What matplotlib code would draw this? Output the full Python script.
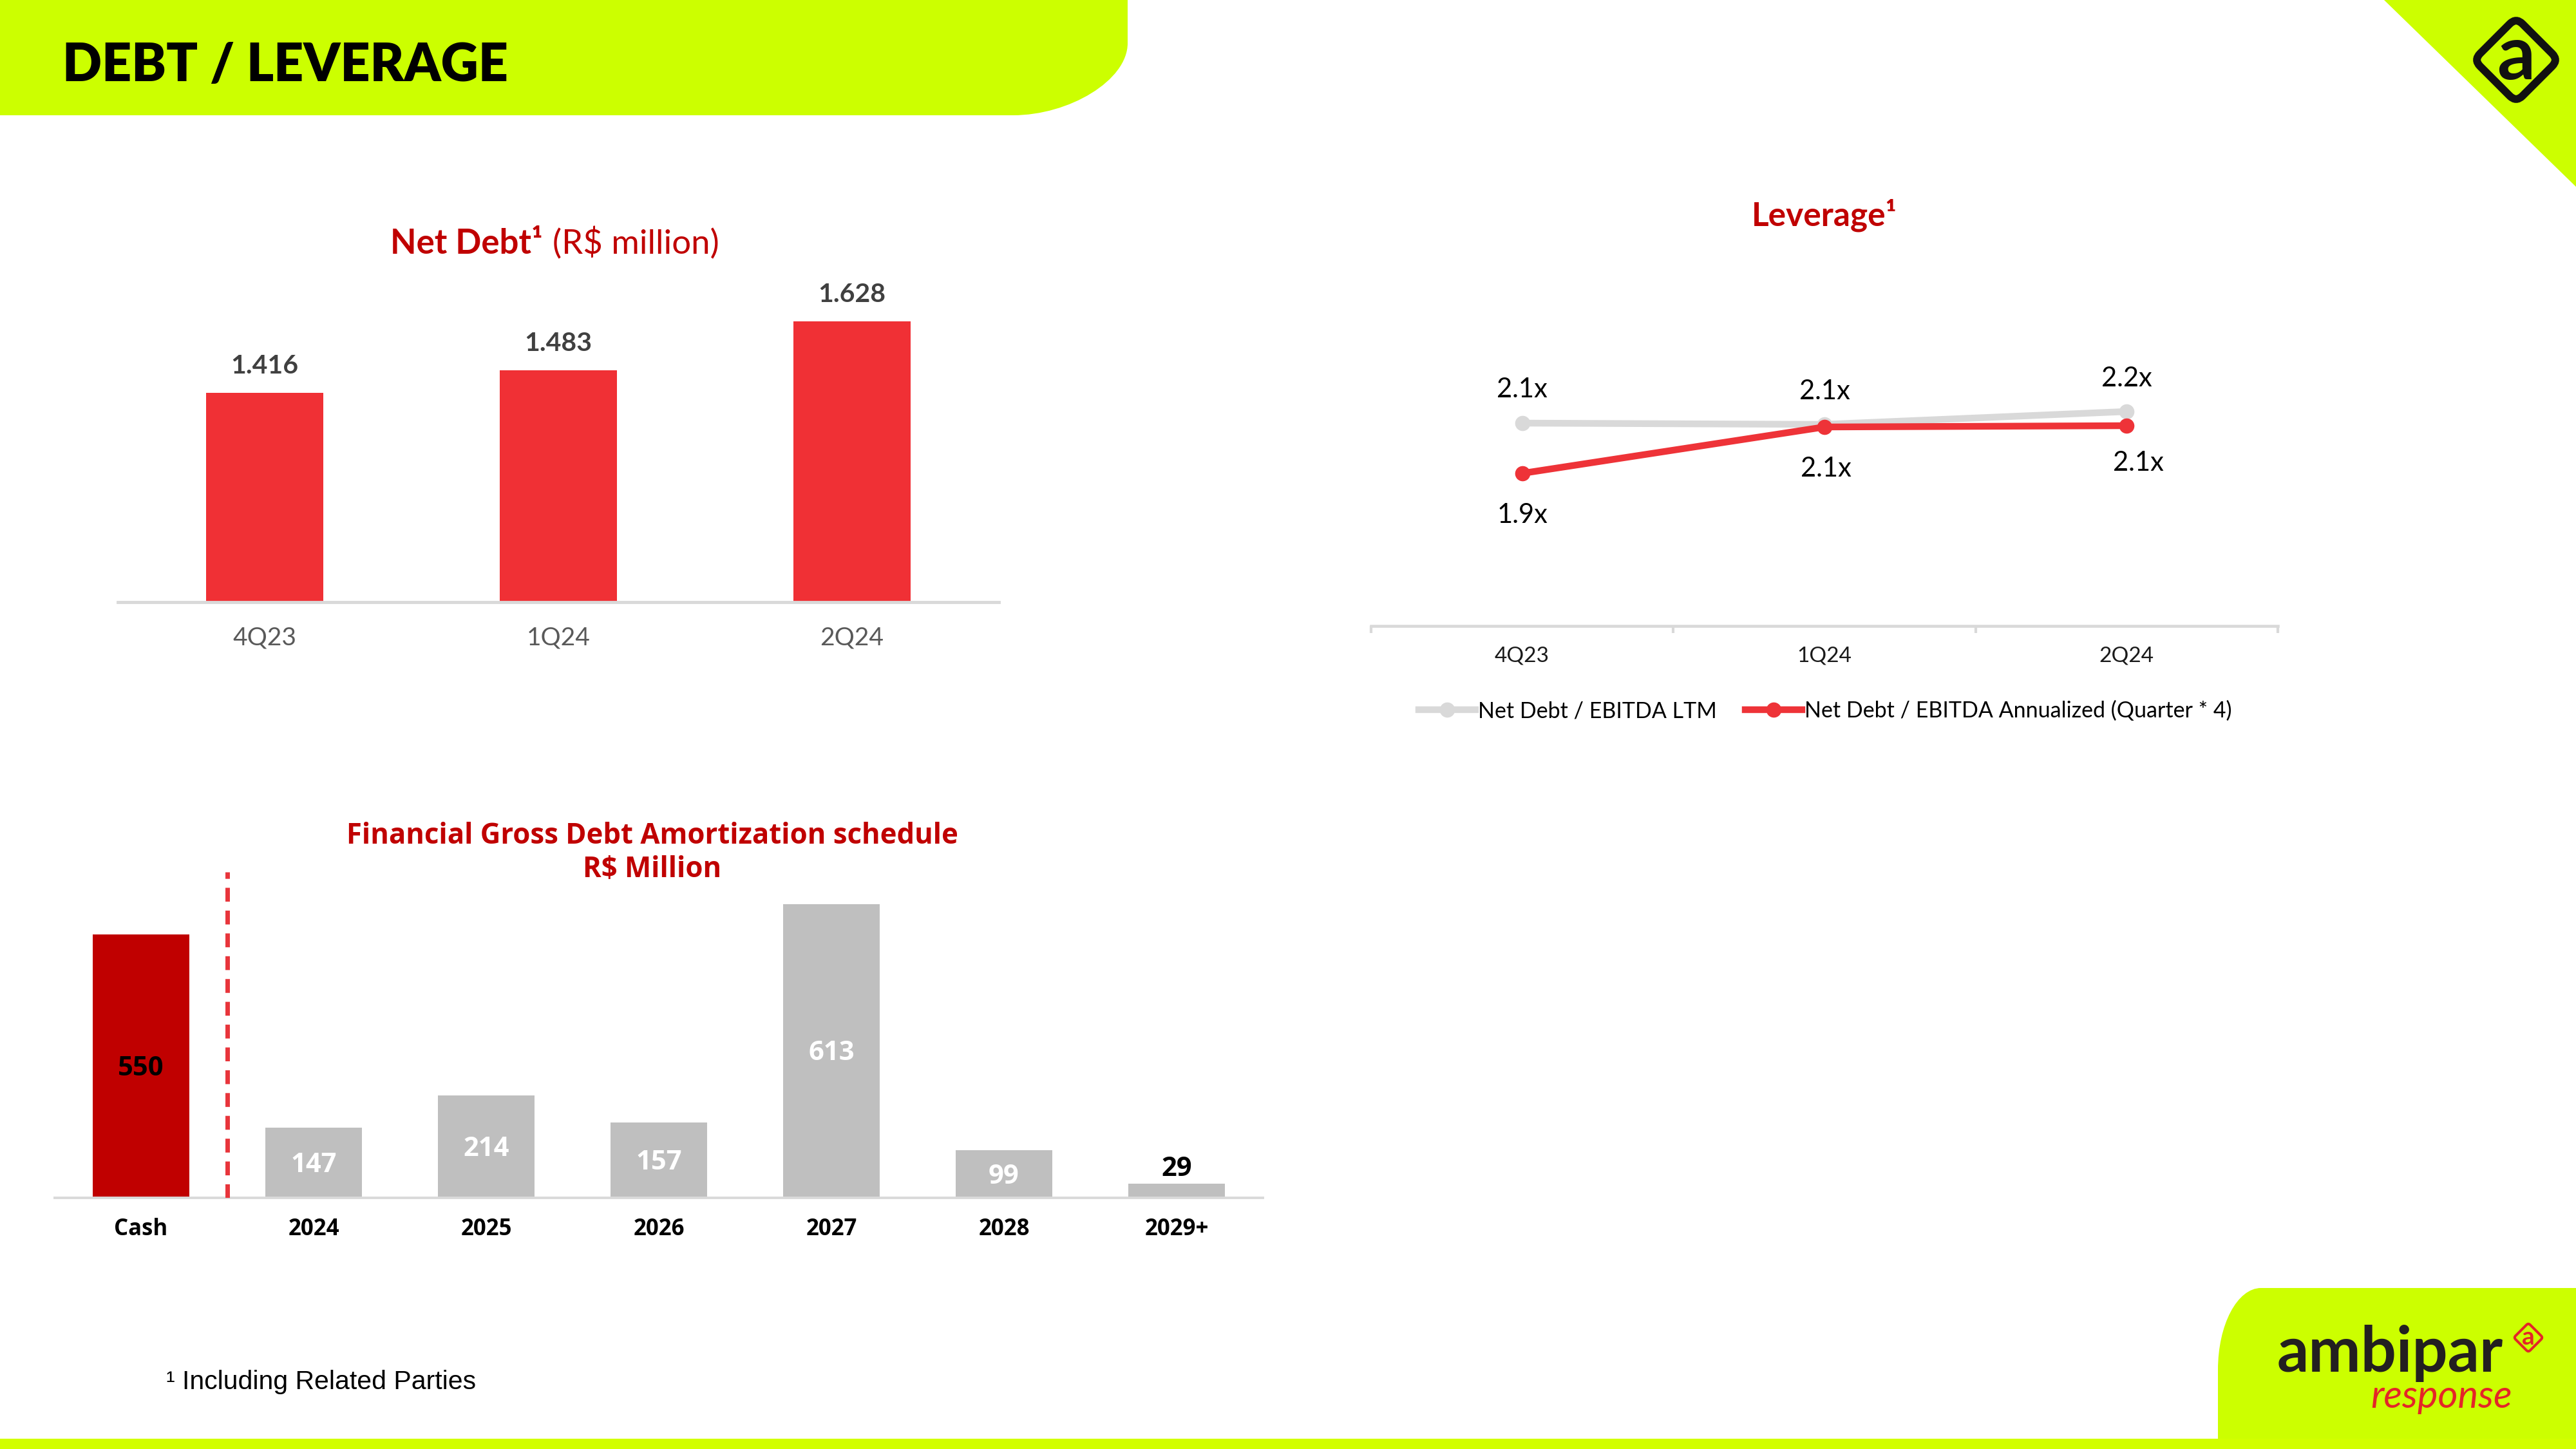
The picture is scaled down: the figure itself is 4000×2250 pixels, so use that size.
import matplotlib
matplotlib.use('Agg')
import matplotlib.pyplot as plt
import matplotlib.transforms as mtransforms
from matplotlib import font_manager
from matplotlib.path import Path
from matplotlib.patches import PathPatch, FancyBboxPatch, Polygon, Rectangle
import numpy as np

# ---------------- data ----------------
nd_quarters = ['4Q23', '1Q24', '2Q24']
nd_values = [1416, 1483, 1628]            # R$ million

lev_quarters = ['4Q23', '1Q24', '2Q24']
lev_ltm = [2.115, 2.11, 2.16]
lev_annualized = [1.92, 2.10, 2.105]
lev_names = ['Net Debt / EBITDA LTM', 'Net Debt / EBITDA Annualized (Quarter * 4)']

am_categories = ['Cash', '2024', '2025', '2026', '2027', '2028', '2029+']
am_values = [550, 147, 214, 157, 613, 99, 29]

# ---------------- fonts ----------------
_avail = {f.name for f in font_manager.fontManager.ttflist}


def pick(*names):
    for n in names:
        if n in _avail:
            return n
    return 'DejaVu Sans'


CAL = pick('Lato', 'Open Sans', 'Noto Sans')
MONT = pick('Open Sans', 'Lato')
NARROW = pick('Liberation Sans Narrow', 'Lato')
HAS_NARROW = NARROW == 'Liberation Sans Narrow'
ARIAL = pick('Liberation Sans', 'DejaVu Sans')

plt.rcParams['font.family'] = [CAL, 'DejaVu Sans']

W, H, DPI = 4000, 2250, 100
fig = plt.figure(figsize=(W / DPI, H / DPI), dpi=DPI)
fig.patch.set_facecolor('white')

# pixel (from top-left) -> display
PX = mtransforms.Affine2D().scale(1 / W, -1 / H).translate(0, 1) + fig.transFigure
PT = 72 / DPI  # points per pixel

LIME = '#CCFF00'
DARKRED = '#C00000'


def ftext(x, y, s, **kw):
    return fig.text(x / W, 1 - y / H, s, **kw)


def add_axes_px(left, top, right, bottom):
    return fig.add_axes([left / W, 1 - bottom / H, (right - left) / W, (bottom - top) / H])


# ---------------- decorations ----------------
# header band with rounded bottom-right corner
hv = [(0, 0), (1751, 0), (1751, 67), (1751, 125), (1660, 179), (1573, 179), (0, 179), (0, 0)]
hc = [Path.MOVETO, Path.LINETO, Path.LINETO, Path.CURVE4, Path.CURVE4, Path.CURVE4,
      Path.LINETO, Path.CLOSEPOLY]
fig.add_artist(PathPatch(Path(hv, hc), transform=PX, facecolor=LIME, edgecolor='none', zorder=0))

title_size = 64 if HAS_NARROW else 58
ftext(97, 126, 'DEBT / LEVERAGE', family=[NARROW, 'DejaVu Sans'], fontsize=title_size,
      fontweight='heavy', color='black', ha='left', va='baseline')

# top-right triangle + logo
fig.add_artist(Polygon([(3702, 0), (4000, 0), (4000, 290)], closed=True, transform=PX,
                       facecolor=LIME, edgecolor='none', zorder=0))


def diamond(cx, cy, half_diag, r, lw_px, color):
    s = (half_diag + r * (np.sqrt(2) - 1)) * np.sqrt(2)
    tr = mtransforms.Affine2D().rotate_deg_around(cx, cy, 45) + PX
    p = FancyBboxPatch((cx - s / 2, cy - s / 2), s, s,
                       boxstyle=f'round,pad=0,rounding_size={r}',
                       transform=tr, facecolor='none', edgecolor=color,
                       linewidth=lw_px * PT, zorder=5)
    fig.add_artist(p)


diamond(3907, 93, 60, 14, 12, '#111111')
ftext(3907, 123, 'a', family=[NARROW, 'DejaVu Sans'], fontsize=92 if HAS_NARROW else 84,
      fontweight='bold', color='#111111', ha='center', va='baseline')

# bottom-right block
bv = [(3444, 2250), (3444, 2127), (3444, 2057), (3474, 2000), (3511, 2000),
      (4000, 2000), (4000, 2250), (3444, 2250)]
bc = [Path.MOVETO, Path.LINETO, Path.CURVE4, Path.CURVE4, Path.CURVE4,
      Path.LINETO, Path.LINETO, Path.CLOSEPOLY]
fig.add_artist(PathPatch(Path(bv, bc), transform=PX, facecolor=LIME, edgecolor='none', zorder=0))
# bottom strip
fig.add_artist(Rectangle((0, 2234), 4000, 16, transform=PX, facecolor='#D2FF00',
                         edgecolor='none', zorder=0))

ftext(3536, 2130, 'ambipar', family=[NARROW, 'DejaVu Sans'], fontsize=76 if HAS_NARROW else 70,
      fontweight='bold', color='#231F20', ha='left', va='baseline')
diamond(3926, 2077, 21, 4, 4, '#E42528')
ftext(3926, 2088, 'a', family=[NARROW, 'DejaVu Sans'], fontsize=28, fontweight='bold',
      color='#E42528', ha='center', va='baseline')
ftext(3681, 2186, 'response', family=[CAL, 'DejaVu Sans'], fontsize=43, style='italic',
      color='#E42528', ha='left', va='baseline')

# footnote
ftext(258, 2157, '¹ Including Related Parties', family=[ARIAL, 'DejaVu Sans'], fontsize=29.5,
      color='black', ha='left', va='baseline')

# ---------------- Net Debt bar chart ----------------
ax1 = add_axes_px(183, 400, 1551, 935)
x1 = np.arange(len(nd_quarters))
ax1.bar(x1, nd_values, width=0.40, color='#F03035', zorder=2)
ax1.set_xlim(-0.5, len(nd_quarters) - 0.5)
nd_ymin = 795
ax1.set_ylim(nd_ymin, nd_ymin + 535 / 0.5236)
for s in ['left', 'right', 'top']:
    ax1.spines[s].set_visible(False)
ax1.spines['bottom'].set_color('#D9D9D9')
ax1.spines['bottom'].set_linewidth(3.5)
ax1.spines['bottom'].set_zorder(3)
ax1.set_yticks([])
ax1.set_xticks(x1, nd_quarters)
ax1.tick_params(axis='x', length=0, pad=27, labelsize=28, labelcolor='#595959')
ax1.patch.set_alpha(0)
for xi, v in zip(x1, nd_values):
    ax1.annotate(f'{v:,}'.replace(',', '.'), (xi, v), xytext=(0, 30 * PT), textcoords='offset points',
                 ha='center', va='baseline', fontsize=29.5, fontweight='bold', color='#404040')

ftext(843, 394, 'Net Debt¹', fontsize=38, fontweight='bold', color=DARKRED, ha='right', va='baseline')
ftext(858, 394, '(R$ million)', fontsize=38, color=DARKRED, ha='left', va='baseline')

# ---------------- Leverage line chart ----------------
ax2 = add_axes_px(2129, 420, 3537, 972)
x2 = np.arange(len(lev_quarters))
k = 400.0  # px per unit
lev_ymin = 2.10 - (972 - 663) / k
ax2.set_ylim(lev_ymin, lev_ymin + 552 / k)
ax2.set_xlim(-0.5, len(lev_quarters) - 0.5)
l1, = ax2.plot(x2, lev_ltm, color='#D9D9D9', lw=7.5, marker='o', ms=16, zorder=2,
               label=lev_names[0])
l2, = ax2.plot(x2, lev_annualized, color='#EE3338', lw=7.5, marker='o', ms=16, zorder=3,
               label=lev_names[1])
for s in ['left', 'right', 'top']:
    ax2.spines[s].set_visible(False)
ax2.spines['bottom'].set_color('#D9D9D9')
ax2.spines['bottom'].set_linewidth(3.3)
ax2.set_yticks([])
ax2.set_xticks(x2, lev_quarters)
ax2.set_xticks(np.arange(-0.5, len(lev_quarters)), minor=True)
ax2.tick_params(axis='x', which='major', length=0, pad=23, labelsize=24, labelcolor='#1A1A1A')
ax2.tick_params(axis='x', which='minor', length=8, width=3, color='#D9D9D9', direction='out')
ax2.patch.set_alpha(0)

for xi, v in zip(x2, lev_ltm):
    ax2.annotate(f'{v:.1f}x', (xi, v), xytext=(0, 39.5 * PT), textcoords='offset points',
                 ha='center', va='baseline', fontsize=30, color='black')
red_dx = [0, 2, 18]
red_dy = [62, 62, 55]
for xi, v, dx, dy in zip(x2, lev_annualized, red_dx, red_dy):
    ax2.annotate(f'{v:.1f}x', (xi, v), xytext=(dx * PT, -(dy + 15) * PT), textcoords='offset points',
                 ha='center', va='baseline', fontsize=30, color='black')

ax2.legend(handles=[l1, l2], loc='center', bbox_to_anchor=(2834 / W, 1 - 1104 / H),
           bbox_transform=fig.transFigure, ncol=2, frameon=False,
           prop={'family': CAL, 'size': 24.5}, handlelength=2.6, handletextpad=0.1,
           columnspacing=1.3, numpoints=1)

ftext(2833, 350, 'Leverage¹', fontsize=37, fontweight='bold', color=DARKRED, ha='center', va='baseline')

# ---------------- Amortization schedule ----------------
ax3 = add_axes_px(85, 1340, 1961, 1860)
x3 = np.arange(len(am_categories))
am_colors = [DARKRED] + ['#BFBFBF'] * (len(am_categories) - 1)
ax3.bar(x3, am_values, width=0.56, color=am_colors, zorder=2)
ax3.set_xlim(-0.5, len(am_categories) - 0.5)
am_top = 520 / 0.744
ax3.set_ylim(0, am_top)
for s in ['left', 'right', 'top']:
    ax3.spines[s].set_visible(False)
ax3.spines['bottom'].set_color('#D9D9D9')
ax3.spines['bottom'].set_linewidth(2.8)
ax3.set_yticks([])
ax3.set_xticks(x3, am_categories)
ax3.tick_params(axis='x', length=0, pad=22, labelsize=25, labelcolor='black')
for lbl in ax3.get_xticklabels():
    lbl.set_fontfamily([MONT, 'DejaVu Sans'])
    lbl.set_fontweight('bold')
ax3.patch.set_alpha(0)
for i, (xi, v) in enumerate(zip(x3, am_values)):
    if v < 50:
        ax3.annotate(str(v), (xi, v), xytext=(0, 12.5 * PT), textcoords='offset points',
                     ha='center', va='baseline', fontsize=30, fontweight='bold',
                     color='black', family=[MONT, 'DejaVu Sans'])
    else:
        ax3.annotate(str(v), (xi, v / 2), xytext=(0, -14.5 * PT), textcoords='offset points',
                     ha='center', va='baseline', fontsize=30, fontweight='bold',
                     color='black' if i == 0 else 'white', family=[MONT, 'DejaVu Sans'])
ax3.axvline(0.5, ymin=0, ymax=680 / am_top, color='#E8353B', lw=5,
            linestyle=(0, (3.1, 2.0)), zorder=3)

ftext(1013, 1310, 'Financial Gross Debt Amortization schedule', family=[MONT, 'DejaVu Sans'],
      fontsize=31.5, fontweight='bold', color=DARKRED, ha='center', va='baseline')
ftext(1013, 1362, 'R$ Million', family=[MONT, 'DejaVu Sans'],
      fontsize=31.5, fontweight='bold', color=DARKRED, ha='center', va='baseline')

fig.savefig('out.png', dpi=DPI, facecolor='white')
